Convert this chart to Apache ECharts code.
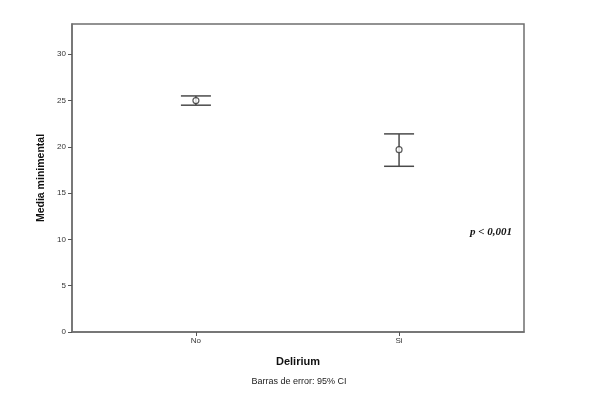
<!DOCTYPE html>
<html>
<head>
<meta charset="utf-8">
<script src="https://cdn.jsdelivr.net/npm/echarts@6/dist/echarts.min.js"></script>
<style>html,body{margin:0;padding:0;background:#fff}#c{width:598px;height:400px}</style>
</head>
<body>
<div id="c"></div>
<script>
const categories = ['No', 'Si'];
const means = [25.0, 19.7];
const lowerCI = [24.5, 17.9];
const upperCI = [25.5, 21.4];
const yTicks = [0, 5, 10, 15, 20, 25, 30];
const xTitle = 'Delirium';
const yTitle = 'Media minimental';
const footnote = 'Barras de error: 95% CI';
const pText = 'p < 0,001';

const chart = echarts.init(document.getElementById('c'));
const axisColor = '#6f6f6f';
const lineColor = '#4a4a4a';
const catIdx = categories.map((_, i) => i);

chart.setOption({
  animation: false,
  backgroundColor: '#fff',
  grid: { left: 72, right: 74, top: 24, bottom: 68, show: true, borderColor: axisColor, borderWidth: 1.5, backgroundColor: 'transparent' },
  xAxis: {
    type: 'value', min: -0.61, max: 1.615,
    name: xTitle, nameLocation: 'middle', nameGap: 24,
    nameTextStyle: { fontFamily: 'Liberation Sans', fontWeight: 'bold', fontSize: 11, color: '#111' },
    axisLine: { show: true, onZero: false, lineStyle: { color: axisColor, width: 1.5 } },
    axisTick: { show: true, customValues: catIdx, length: 4, lineStyle: { color: '#555' } },
    axisLabel: { customValues: catIdx, formatter: v => categories[Math.round(v)] || '', fontFamily: 'Liberation Sans', fontSize: 8, color: '#333', margin: 5 },
    splitLine: { show: false }
  },
  yAxis: {
    type: 'value', min: 0, max: 33.27,
    name: yTitle, nameLocation: 'middle', nameGap: 21,
    nameTextStyle: { fontFamily: 'Liberation Sans', fontWeight: 'bold', fontSize: 10.5, color: '#111' },
    axisLine: { show: true, onZero: false, lineStyle: { color: axisColor, width: 1.5 } },
    axisTick: { show: true, customValues: yTicks, length: 4, lineStyle: { color: '#555' } },
    axisLabel: { customValues: yTicks, fontFamily: 'Liberation Sans', fontSize: 8, color: '#333', margin: 6 },
    splitLine: { show: false }
  },
  series: [
    {
      type: 'custom',
      data: catIdx.map(i => [i, lowerCI[i], upperCI[i]]),
      renderItem: function (params, api) {
        const x = api.value(0);
        const lo = api.coord([x, api.value(1)]);
        const hi = api.coord([x, api.value(2)]);
        const hw = 15;
        const st = { stroke: lineColor, lineWidth: 1.5 };
        return {
          type: 'group',
          children: [
            { type: 'line', shape: { x1: lo[0], y1: lo[1], x2: hi[0], y2: hi[1] }, style: st },
            { type: 'line', shape: { x1: lo[0] - hw, y1: lo[1], x2: lo[0] + hw, y2: lo[1] }, style: st },
            { type: 'line', shape: { x1: hi[0] - hw, y1: hi[1], x2: hi[0] + hw, y2: hi[1] }, style: st }
          ]
        };
      },
      z: 2
    },
    {
      type: 'scatter',
      data: catIdx.map(i => [i, means[i]]),
      symbol: 'circle', symbolSize: 6,
      itemStyle: { color: '#fff', borderColor: '#333', borderWidth: 1.2 },
      z: 3
    }
  ],
  graphic: [
    { type: 'text', left: 'center', top: 377, style: { text: footnote, fontFamily: 'Liberation Sans', fontSize: 9, fill: '#222' }, x: -20 },
    { type: 'text', left: 470, top: 227, style: { text: pText, fontFamily: 'Liberation Serif', fontStyle: 'italic', fontWeight: 'bold', fontSize: 11, fill: '#111' } }
  ]
});
</script>
</body>
</html>
